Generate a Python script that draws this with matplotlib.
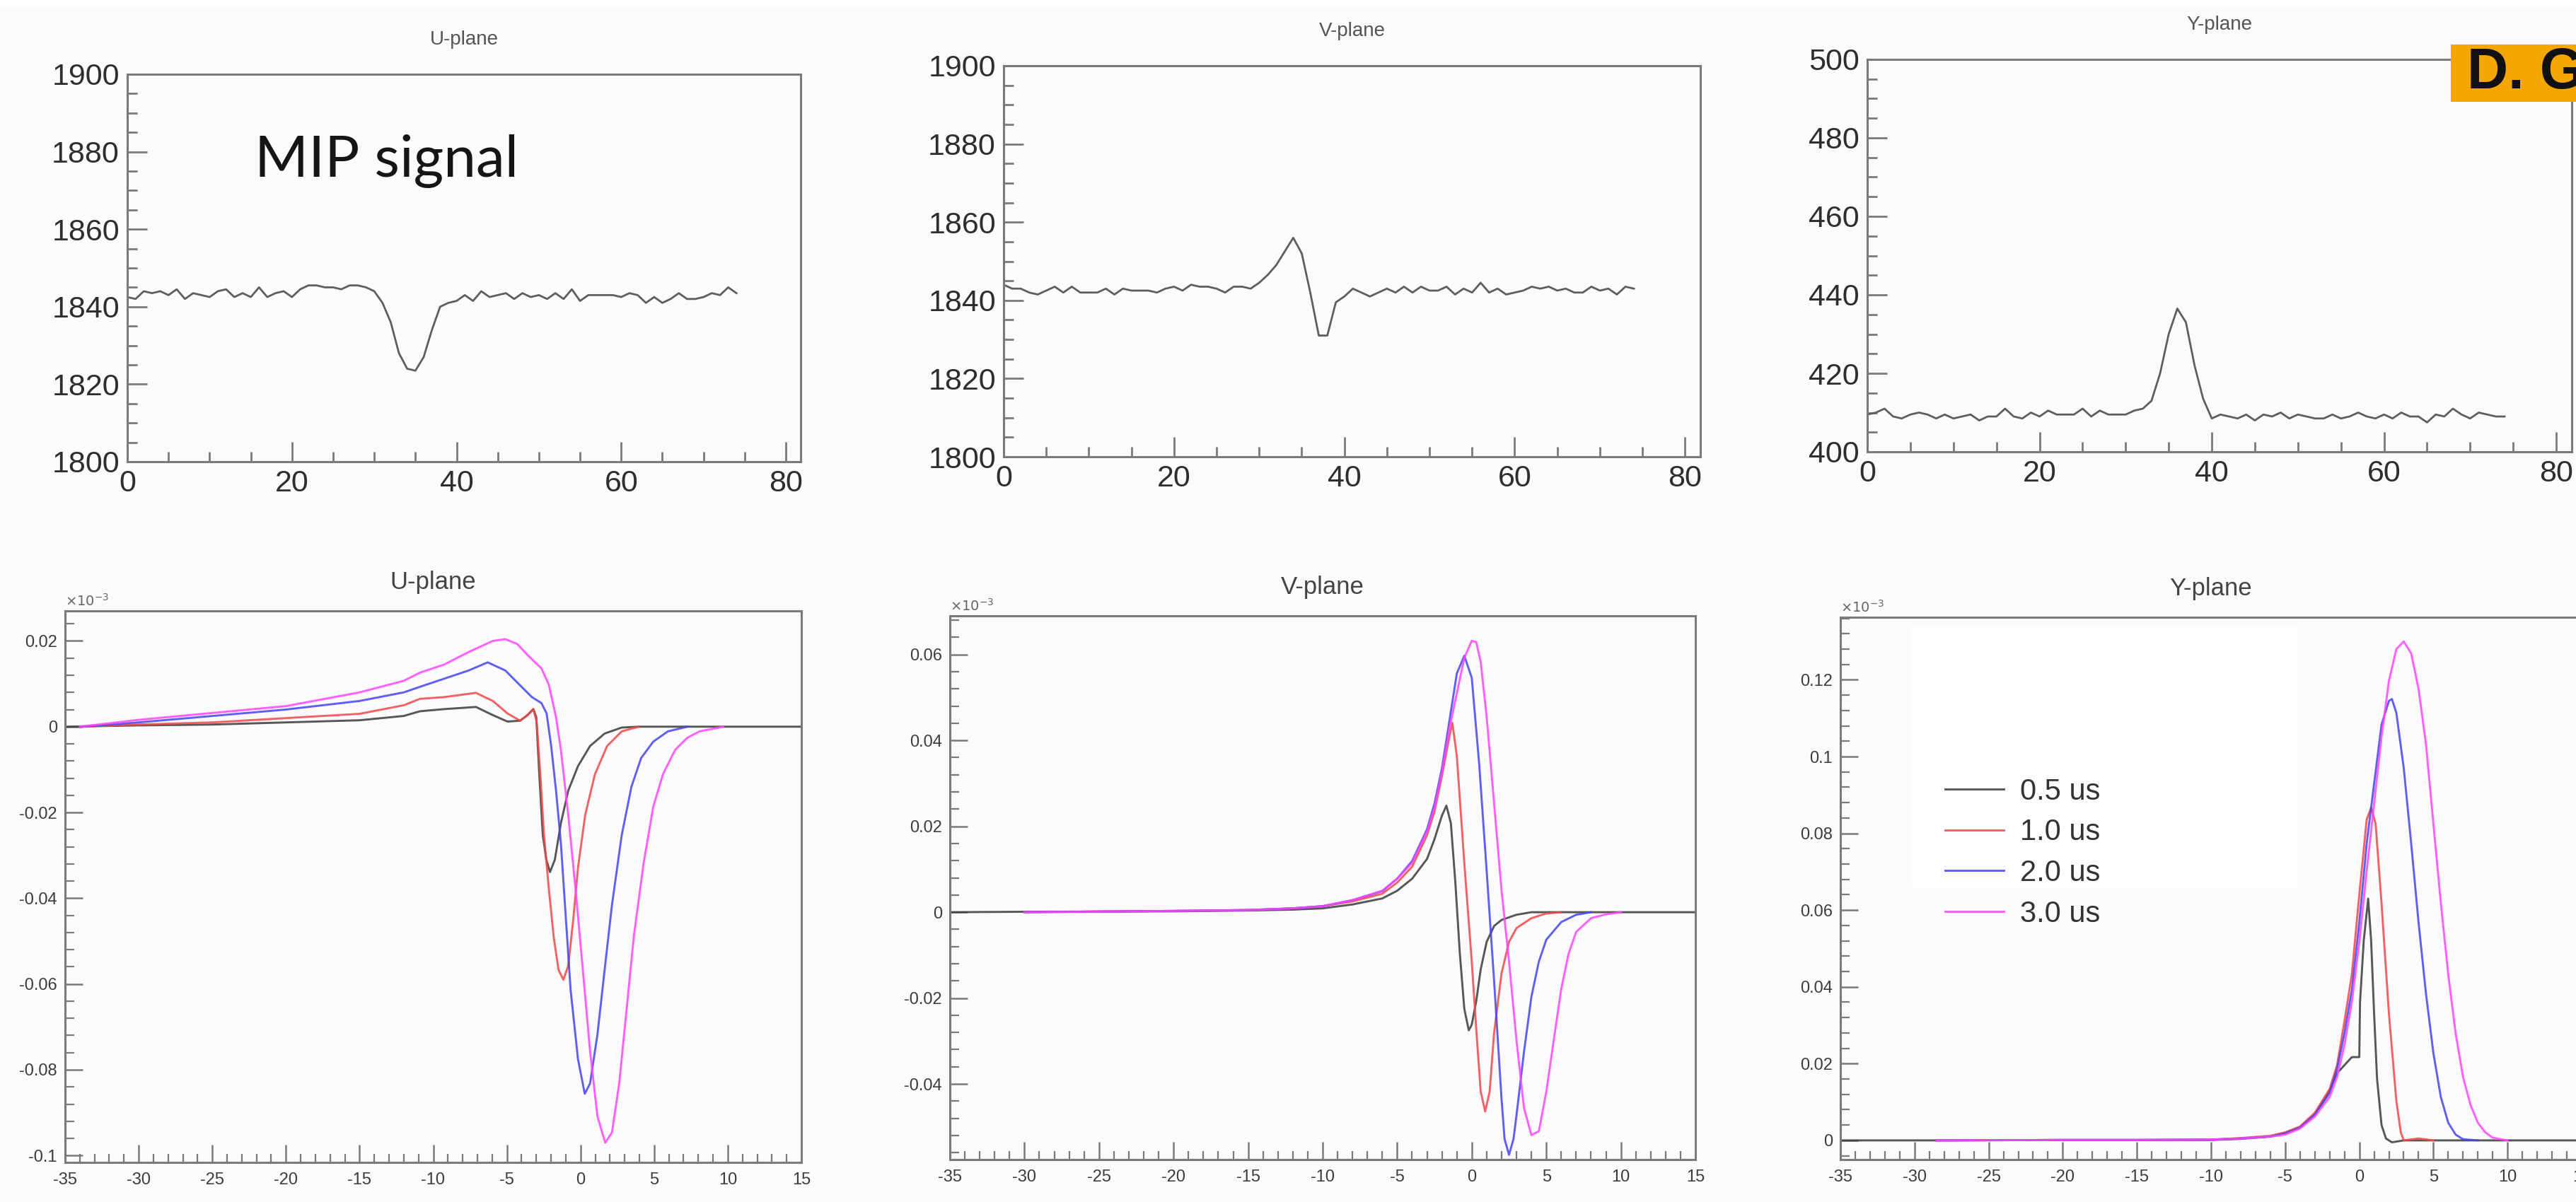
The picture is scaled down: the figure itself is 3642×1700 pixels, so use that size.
import matplotlib
matplotlib.use("Agg")
import matplotlib.pyplot as plt
from matplotlib.patches import Rectangle
from matplotlib.ticker import MultipleLocator, FuncFormatter

W, H = 3642, 1700

# raw ADC waveforms, one sample per time tick
adc_ticks = list(range(75))
adc_u = [1842.5, 1842, 1844, 1843.5, 1844, 1843, 1844.5, 1842, 1843.5, 1843,
         1842.5, 1844, 1844.5, 1842.5, 1843.5, 1842.5, 1845, 1842.5, 1843.5, 1844,
         1842.5, 1844.5, 1845.5, 1845.5, 1845, 1845, 1844.5, 1845.5, 1845.5, 1845,
         1844, 1841, 1836, 1828, 1824, 1823.5, 1827, 1834, 1840, 1841,
         1841.5, 1843, 1841.5, 1844, 1842.5, 1843, 1843.5, 1842, 1843.5, 1842.5,
         1843, 1842, 1843.5, 1842, 1844.5, 1841.5, 1843, 1843, 1843, 1843,
         1842.5, 1843.5, 1843, 1841, 1842.5, 1841, 1842, 1843.5, 1842, 1842,
         1842.5, 1843.5, 1843, 1845, 1843.5]
adc_v = [1844, 1843, 1843, 1842, 1841.5, 1842.5, 1843.5, 1842, 1843.5, 1842,
         1842, 1842, 1843, 1841.5, 1843, 1842.5, 1842.5, 1842.5, 1842, 1843,
         1843.5, 1842.5, 1844, 1843.5, 1843.5, 1843, 1842, 1843.5, 1843.5, 1843,
         1844.5, 1846.5, 1849, 1852.5, 1856, 1852, 1842, 1831, 1831, 1839.5,
         1841, 1843, 1842, 1841, 1842, 1843, 1842, 1843.5, 1842, 1843.5,
         1842.5, 1842.5, 1843.5, 1841.5, 1843, 1842, 1844.5, 1842, 1843, 1841.5,
         1842, 1842.5, 1843.5, 1843, 1843.5, 1842.5, 1843, 1842, 1842, 1843.5,
         1842.5, 1843, 1841.5, 1843.5, 1843]
adc_y = [409.5, 410, 411, 409, 408.5, 409.5, 410, 409.5, 408.5, 409.5,
         408.5, 409, 409.5, 408, 409, 409, 411, 409, 408.5, 410,
         409, 410.5, 409.5, 409.5, 409.5, 411, 409, 410.5, 409.5, 409.5,
         409.5, 410.5, 411, 413, 420, 430, 436.5, 433, 422, 413.5,
         408.5, 409.5, 409, 408.5, 409.5, 408, 409.5, 409, 410, 408.5,
         409.5, 409, 408.5, 408.5, 409.5, 408.5, 409, 410, 409, 408.5,
         409.5, 408.5, 410, 409, 409, 407.5, 409.5, 409, 411, 409.5,
         408.5, 410, 409.5, 409, 409]

# field responses (x10^-3) for each shaping time
shaping = ["0.5 us", "1.0 us", "2.0 us", "3.0 us"]

u_x_05 = [-35, -30, -25, -20, -15, -12, -10.9, -9.25, -7.1, -5.95, -4.96, -4.1, -3.6, -3.2,
          -3.0, -2.8, -2.56, -2.32, -2.07, -1.74, -1.33, -0.83, -0.17, 0.65, 1.64, 2.8, 3.95, 15]
u_y_05 = [0, 0.0003, 0.0005, 0.001, 0.0015, 0.0025, 0.0036, 0.0041, 0.0046, 0.0027, 0.0012, 0.0014,
          0.0027, 0.0041, 0.0022, -0.011, -0.0253, -0.031, -0.0339, -0.031, -0.0225, -0.0149,
          -0.0092, -0.0045, -0.0016, -0.0002, 0, 0]
u_x_10 = [-34, -30, -25, -20, -15, -12, -10.9, -9.25, -7.1, -5.95, -4.96, -4.1, -3.6, -3.2, -2.98,
          -2.73, -2.48, -2.15, -1.82, -1.49, -1.16, -0.83, -0.5, -0.17, 0.32, 0.98, 1.81, 2.8, 3.95]
u_y_10 = [0, 0.0005, 0.001, 0.002, 0.003, 0.005, 0.0065, 0.0069, 0.0079, 0.006, 0.0031, 0.0014,
          0.0027, 0.0041, 0.0012, -0.011, -0.0253, -0.0377, -0.049, -0.0567, -0.059, -0.0557,
          -0.0453, -0.0329, -0.0206, -0.0111, -0.0045, -0.0011, 0]
u_x_20 = [-34, -30, -25, -20, -15, -12, -10.9, -9.25, -7.6, -6.3, -5.1, -4.0, -3.3, -2.65, -2.3,
          -1.99, -1.66, -1.33, -1.0, -0.67, -0.17, 0.29, 0.65, 1.15, 1.64, 2.14, 2.8, 3.46, 4.12,
          4.94, 5.93, 7.25]
u_y_20 = [0, 0.001, 0.0025, 0.004, 0.006, 0.008, 0.0093, 0.0112, 0.0131, 0.015, 0.0131, 0.0093,
          0.0069, 0.0055, 0.0031, -0.0045, -0.0149, -0.0272, -0.0443, -0.0614, -0.0775, -0.0856,
          -0.0832, -0.0718, -0.0567, -0.0415, -0.0253, -0.014, -0.0073, -0.0035, -0.0011, 0]
u_x_30 = [-34, -30, -25, -20, -15, -12, -10.9, -9.25, -7.6, -5.95, -5.1, -4.3, -3.5, -2.65, -2.15,
          -1.66, -1.33, -0.83, -0.34, 0.16, 0.65, 1.15, 1.68, 2.14, 2.63, 3.13, 3.62, 4.28, 4.94,
          5.6, 6.43, 7.25, 8.08, 9.7]
u_y_30 = [0, 0.0016, 0.0032, 0.0048, 0.008, 0.0107, 0.0126, 0.0145, 0.0174, 0.020, 0.0204, 0.0193,
          0.0164, 0.0136, 0.0098, 0.0022, -0.0054, -0.0206, -0.0377, -0.0567, -0.0756, -0.0908,
          -0.097, -0.0946, -0.0832, -0.066, -0.049, -0.032, -0.0187, -0.0111, -0.0054, -0.0026,
          -0.0011, 0]

v_x_05 = [-35, -30, -20, -15, -12, -10, -8, -6, -5, -4, -3, -2.5, -2, -1.7, -1.4, -1.1, -0.8,
          -0.5, -0.2, 0, 0.3, 0.6, 1, 1.5, 2, 3, 4, 15]
v_y_05 = [0, 0.0001, 0.0002, 0.0004, 0.0006, 0.0009, 0.0018, 0.0032, 0.005, 0.0078, 0.0124, 0.017,
          0.0225, 0.0248, 0.0207, 0.0069, -0.0096, -0.0225, -0.0275, -0.0262, -0.0207, -0.0133,
          -0.0069, -0.0032, -0.0018, -0.0006, 0, 0]
v_x_10 = [-30, -20, -15, -12, -10, -8, -6, -5, -4, -3, -2.5, -2, -1.5, -1.3, -1, -0.5, 0, 0.3,
          0.6, 0.9, 1.2, 1.5, 2, 2.5, 3, 4, 5, 6]
v_y_10 = [0, 0.0003, 0.0005, 0.0009, 0.0014, 0.0025, 0.0043, 0.0069, 0.0106, 0.0179, 0.0234,
          0.0317, 0.0409, 0.0441, 0.0363, 0.0115, -0.0115, -0.0271, -0.0418, -0.0464, -0.0418,
          -0.028, -0.0142, -0.0069, -0.0037, -0.0014, -0.0003, 0]
v_x_20 = [-30, -20, -15, -12, -10, -8, -6, -5, -4, -3, -2.5, -2, -1.5, -1, -0.5, 0, 0.5, 1, 1.5,
          2, 2.2, 2.5, 2.8, 3, 3.5, 4, 4.5, 5, 6, 7, 8]
v_y_20 = [0, 0.0003, 0.0005, 0.0009, 0.0014, 0.0028, 0.0049, 0.0078, 0.0119, 0.0193, 0.0253,
          0.0335, 0.0445, 0.0556, 0.0597, 0.0546, 0.0344, 0.0096, -0.0161, -0.0436, -0.0528,
          -0.0565, -0.0528, -0.0473, -0.0326, -0.0197, -0.0115, -0.0064, -0.0023, -0.0006, 0]
v_x_30 = [-30, -20, -15, -12, -10, -8, -6, -5, -4, -3, -2.5, -2, -1.5, -1, -0.5, 0, 0.3, 0.6, 1,
          1.5, 2, 2.5, 3, 3.5, 4, 4.5, 5, 5.5, 6, 6.5, 7, 8, 9, 10]
v_y_30 = [0, 0.0003, 0.0005, 0.0009, 0.0014, 0.0028, 0.005, 0.0078, 0.0115, 0.0188, 0.0243,
          0.0326, 0.0427, 0.051, 0.0592, 0.0632, 0.0629, 0.0583, 0.0455, 0.0253, 0.005, -0.0115,
          -0.0298, -0.0455, -0.0519, -0.051, -0.0418, -0.0298, -0.0179, -0.0096, -0.0046,
          -0.0014, -0.0005, 0]

y_x_05 = [-35, -28.5, -20, -15, -10, -8, -6, -5, -4, -3, -2, -1.5, -0.5, 0, 0.05, 0.3, 0.6, 0.8,
          1.0, 1.2, 1.5, 1.8, 2.2, 3, 15]
y_y_05 = [0, 0, 0.0001, 0.0001, 0.0001, 0.0004, 0.001, 0.0019, 0.0034, 0.0067, 0.0129, 0.0175,
          0.0217, 0.0217, 0.036, 0.052, 0.063, 0.052, 0.033, 0.016, 0.004, 0.0005, -0.0005, 0, 0]
y_x_10 = [-28.5, -20, -15, -10, -8, -6, -5, -4, -3, -2, -1.5, -1, -0.5, 0, 0.5, 0.8, 1.1, 1.5, 2,
          2.5, 2.8, 3, 4, 5]
y_y_10 = [0, 0.0001, 0.0001, 0.0002, 0.0006, 0.0012, 0.0021, 0.0036, 0.0072, 0.0134, 0.0196,
          0.031, 0.0433, 0.064, 0.0836, 0.0867, 0.0825, 0.0619, 0.033, 0.0103, 0.0021, 0, 0.0005, 0]
y_x_20 = [-28.5, -20, -15, -10, -8, -6, -5, -4, -3, -2, -1.5, -1, -0.5, 0, 0.5, 1, 1.5, 2, 2.2,
          2.5, 3, 3.5, 4, 4.5, 5, 5.5, 6, 6.5, 7, 8]
y_y_20 = [0, 0.0001, 0.0001, 0.0002, 0.0005, 0.001, 0.0018, 0.0033, 0.0067, 0.0124, 0.0186,
          0.0279, 0.0392, 0.0567, 0.0774, 0.0929, 0.1083, 0.1145, 0.115, 0.1114, 0.097, 0.0774,
          0.0567, 0.0382, 0.0227, 0.0113, 0.0046, 0.0015, 0.0003, 0]
y_x_30 = [-28.5, -20, -15, -10, -8, -6, -5, -4, -3, -2, -1.5, -1, -0.5, 0, 0.5, 1, 1.5, 2, 2.5,
          3, 3.5, 4, 4.5, 5, 5.5, 6, 6.5, 7, 7.5, 8, 8.5, 9, 10]
y_y_30 = [0, 0.0001, 0.0001, 0.0002, 0.0005, 0.001, 0.0015, 0.0031, 0.0062, 0.0113, 0.0165,
          0.0248, 0.0361, 0.0516, 0.0702, 0.0877, 0.1052, 0.1197, 0.128, 0.130, 0.1269, 0.1176,
          0.1032, 0.0825, 0.0619, 0.0433, 0.0279, 0.0165, 0.0093, 0.0046, 0.0021, 0.0007, 0]

curve_colors = ["#3a3a3a", "#f04848", "#4444f0", "#ff44ff"]
BG = "#fcfafc"
FRAME = "#7a7a7a"

plt.rcParams["font.family"] = ["Liberation Sans", "DejaVu Sans"]
plt.rcParams["axes.unicode_minus"] = False


def px_axes(fig, left, top, right, bottom):
    return fig.add_axes([left / W, 1 - bottom / H, (right - left) / W, (bottom - top) / H])


def frame_style(ax, lw):
    ax.set_facecolor(BG)
    for sp in ax.spines.values():
        sp.set_color(FRAME)
        sp.set_linewidth(lw)
    ax.tick_params(which="both", direction="in", top=False, right=False, color=FRAME)


def fmt_plain(v, _pos):
    s = f"{v:.3f}".rstrip("0").rstrip(".")
    return "0" if s in ("-0", "0") else s


def adc_panel(fig, box, values, ylim, title):
    ax = px_axes(fig, *box)
    frame_style(ax, 2.2)
    ax.plot(adc_ticks, values, color="#5e5e5e", lw=2.0)
    ax.set_xlim(0, 81.8)
    ax.set_ylim(*ylim)
    ax.xaxis.set_major_locator(MultipleLocator(20))
    ax.xaxis.set_minor_locator(MultipleLocator(5))
    ax.yaxis.set_major_locator(MultipleLocator(20))
    ax.yaxis.set_minor_locator(MultipleLocator(5))
    ax.tick_params(which="major", length=20, width=2.0, labelsize=31, labelcolor="#2e2e2e")
    ax.tick_params(which="minor", length=10, width=2.0)
    ax.tick_params(axis="both", pad=8)
    ax.set_title(title, fontsize=20, color="#555555", pad=30)
    return ax


def response_panel(fig, box, curves, ylim, y_major, title):
    ax = px_axes(fig, *box)
    frame_style(ax, 2.2)
    lines = []
    for (xs, ys), col in zip(curves, curve_colors):
        ln, = ax.plot(xs, ys, color=col, lw=2.1, alpha=0.85)
        lines.append(ln)
    ax.set_xlim(-35, 15)
    ax.set_ylim(*ylim)
    ax.xaxis.set_major_locator(MultipleLocator(5))
    ax.xaxis.set_minor_locator(MultipleLocator(1))
    ax.yaxis.set_major_locator(MultipleLocator(y_major))
    ax.yaxis.set_minor_locator(MultipleLocator(y_major / 5))
    ax.yaxis.set_major_formatter(FuncFormatter(fmt_plain))
    ax.xaxis.set_major_formatter(FuncFormatter(fmt_plain))
    ax.tick_params(which="major", length=18, width=1.8, labelsize=17, labelcolor="#3c3c3c")
    ax.tick_params(which="minor", length=9, width=1.6)
    ax.tick_params(axis="x", pad=10)
    ax.tick_params(axis="y", pad=8)
    ax.set_title(title, fontsize=25, color="#444444", pad=22)
    ax.text(0.0, 1.004, r"$\times10^{-3}$", transform=ax.transAxes, fontsize=14,
            color="#666666", ha="left", va="bottom")
    return ax, lines


fig = plt.figure(figsize=(W / 100, H / 100), dpi=100, facecolor=BG)
fig.patches.append(Rectangle((0, 1 - 10 / H), 1, 10 / H, transform=fig.transFigure,
                             facecolor="white", edgecolor="none", zorder=0))

# top row: raw signals of a MIP track
adc_panel(fig, (180, 105, 1132, 653), adc_u, (1800, 1900), "U-plane")
adc_panel(fig, (1419, 93, 2404, 646), adc_v, (1800, 1900), "V-plane")
adc_panel(fig, (2640, 84, 3636, 639), adc_y, (400, 500), "Y-plane")
fig.text(360 / W, 1 - 228 / H, "MIP signal", fontsize=59, family=["Lato", "DejaVu Sans"],
         color="#151515", ha="left", va="center")

# bottom row: field responses for different shaping times
resp_u = [(u_x_05, u_y_05), (u_x_10, u_y_10), (u_x_20, u_y_20), (u_x_30, u_y_30)]
resp_v = [(v_x_05, v_y_05), (v_x_10, v_y_10), (v_x_20, v_y_20), (v_x_30, v_y_30)]
resp_y = [(y_x_05, y_y_05), (y_x_10, y_y_10), (y_x_20, y_y_20), (y_x_30, y_y_30)]
response_panel(fig, (92, 864, 1133, 1644), resp_u, (-0.1016, 0.027), 0.02, "U-plane")
response_panel(fig, (1343, 871, 2397, 1640), resp_v, (-0.0576, 0.069), 0.02, "V-plane")
ax_ry, lines_y = response_panel(fig, (2602, 873, 3650, 1640), resp_y, (-0.005, 0.1363), 0.02,
                                "Y-plane")

ax_ry.add_patch(Rectangle((-30.3, 0.066), 26.1, 0.068, facecolor="#fdfdfd", edgecolor="none",
                          zorder=0.5))
ax_ry.legend(lines_y, shaping, loc="upper left", bbox_to_anchor=(2750 / W, 1 - 1100 / H),
             bbox_transform=fig.transFigure, frameon=False, fontsize=30, handlelength=2.0,
             handletextpad=0.55, labelspacing=0.42, borderpad=0, borderaxespad=0,
             labelcolor="#333333")

# author tag in the corner, running off the right edge
fig.patches.append(Rectangle((3465 / W, 1 - 144 / H), (W - 3465) / W, 81 / H,
                             transform=fig.transFigure, facecolor="#f5a600", edgecolor="none",
                             zorder=5))
fig.text(3488 / W, 1 - 104 / H, "D. G", fontsize=58, fontweight="bold", color="#111111",
         ha="left", va="center", zorder=6)

fig.savefig("out.png", dpi=100, facecolor=fig.get_facecolor())
